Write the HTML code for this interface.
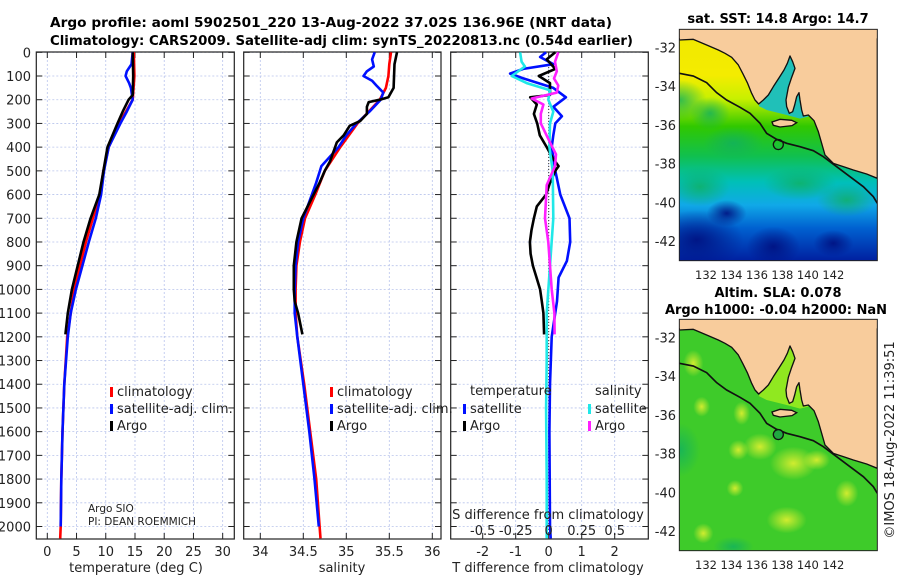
<!DOCTYPE html>
<html><head><meta charset="utf-8"><style>
html,body{margin:0;padding:0;background:#fff;}
svg{display:block;font-family:"DejaVu Sans","Liberation Sans",sans-serif;}
</style></head><body>
<svg id="fig" width="900" height="580" viewBox="0 0 900 580" xmlns="http://www.w3.org/2000/svg">
<defs>
<linearGradient id="sstg" x1="0" y1="88" x2="0" y2="782" gradientUnits="userSpaceOnUse">
<stop offset="0" stop-color="#f0e800"/><stop offset="0.2" stop-color="#f4ec00"/><stop offset="0.3" stop-color="#c8f000"/>
<stop offset="0.42" stop-color="#30c800"/><stop offset="0.55" stop-color="#10c050"/><stop offset="0.66" stop-color="#00c0b8"/>
<stop offset="0.76" stop-color="#10a8e8"/><stop offset="0.86" stop-color="#0060d0"/><stop offset="1" stop-color="#0020a0"/>
</linearGradient>
<radialGradient id="blob"><stop offset="0" stop-color="#e0f030" stop-opacity="0.9"/><stop offset="1" stop-color="#e0f030" stop-opacity="0"/></radialGradient>
<radialGradient id="dblob"><stop offset="0" stop-color="#001080" stop-opacity="0.9"/><stop offset="1" stop-color="#001080" stop-opacity="0"/></radialGradient>
<radialGradient id="gblob"><stop offset="0" stop-color="#10b060" stop-opacity="0.8"/><stop offset="1" stop-color="#10b060" stop-opacity="0"/></radialGradient>
<clipPath id="mapclip"><rect x="58" y="88" width="594" height="694"/></clipPath>
</defs>
<g id="root"></g>
</svg>
<script>
// ---------- data ----------
const depthTArgo=[0,100,180,200,250,300,400,500,600,700,800,900,1000,1100,1190];
const tempArgo=[14.6,14.7,14.6,13.9,12.9,12.0,10.3,9.6,8.9,7.4,6.2,5.2,4.2,3.5,3.1];
const depthClim=[0,100,200,300,400,500,600,700,800,900,1000,1200,1400,1600,1800,2000,2050];
const tempClim=[14.8,14.9,14.6,12.3,10.5,9.6,9.0,7.8,6.6,5.6,4.6,3.4,2.9,2.6,2.4,2.3,2.2];
const depthSat=[0,50,80,100,130,150,200,250,300,400,500,600,700,800,900,1000,1100,1200,1400,1600,1800,2000];
const tempSat=[14.6,14.4,13.6,13.4,14.0,14.3,14.6,13.6,12.5,10.5,9.7,9.2,8.3,7.1,6.0,4.9,4.0,3.5,2.9,2.6,2.4,2.3];
const depthSArgo=[0,50,150,190,200,210,230,260,290,310,350,380,420,460,500,550,600,700,800,900,1000,1050,1100,1190];
const salArgo=[35.59,35.56,35.55,35.49,35.39,35.26,35.24,35.24,35.16,35.04,34.97,34.89,34.85,34.81,34.75,34.69,34.62,34.48,34.42,34.39,34.39,34.40,34.44,34.49];
const depthSClim=[0,50,100,150,200,250,300,400,500,600,700,800,900,1000,1100,1200,1400,1600,1800,2000,2050];
const salClim=[35.52,35.50,35.49,35.46,35.39,35.26,35.13,34.93,34.75,34.64,34.52,34.46,34.42,34.41,34.41,34.43,34.51,34.58,34.65,34.69,34.70];
const depthSSat=[0,30,60,80,100,120,140,170,200,250,300,350,400,480,550,600,700,800,900,1000,1100,1200,1400,1600,1800,2000];
const salSat=[35.33,35.30,35.32,35.24,35.20,35.30,35.35,35.43,35.40,35.27,35.12,35.00,34.91,34.71,34.65,34.60,34.50,34.44,34.41,34.40,34.40,34.43,34.50,34.57,34.63,34.68];
const depthDT=[0,30,70,100,130,180,190,220,260,300,350,400,450,480,500,550,600,650,700,750,800,850,900,950,1000,1050,1100,1190];
const dTArgo=[0.2,-0.06,0.2,-0.3,0.04,0.04,-0.56,-0.36,-0.45,-0.35,-0.27,-0.06,0.14,0.3,0.2,0.04,-0.08,-0.36,-0.45,-0.52,-0.57,-0.55,-0.48,-0.37,-0.26,-0.21,-0.16,-0.14];
const depthDTS=[0,20,50,70,90,110,150,190,230,270,300,350,400,500,600,700,800,880,950,1050,1200,1400,1600,2000,2050];
const dTSat=[-0.08,-0.26,0.14,-0.77,-1.17,-0.77,0.14,0.52,0.14,0.4,0.2,0.14,0.09,0.2,0.35,0.63,0.65,0.55,0.3,0.25,0.09,0.04,0.02,0.04,0.06];
const depthDSS=[0,40,60,100,130,160,200,250,300,400,500,700,900,1100,1300,1500,1800,2050];
const dSSat=[-0.217,-0.205,-0.18,-0.28,-0.167,0.01,-0.003,0.035,0.01,0.005,0.03,0.035,0.01,-0.015,-0.015,-0.02,-0.015,-0.015];
const depthDSA=[0,40,80,110,140,170,195,220,260,300,380,430,480,560,700,800,900,1000,1100,1190];
const dSArgo=[0.073,0.048,0.061,0.040,0.073,0.061,-0.129,-0.040,-0.060,-0.060,0.010,0.055,0.048,-0.015,-0.028,-0.003,0.010,0.023,0.043,0.045];
const depthTicks=[0,100,200,300,400,500,600,700,800,900,1000,1100,1200,1300,1400,1500,1600,1700,1800,1900,2000];
const tempTicks=[0,5,10,15,20,25,30];
const salTicks=[34,34.5,35,35.5,36];
const salTickLabels=["34","34.5","35","35.5","36"];
const dTTicks=[-2,-1,0,1,2];
const dSTicks=[-0.5,-0.25,0,0.25,0.5];
const dSTickLabels=["-0.5","-0.25","0","0.25","0.5"];
const lonTicks=[132,134,136,138,140,142];
const latTicks=[-32,-34,-36,-38,-40,-42];
const argoLon=136.96, argoLat=-37.02;

// ---------- helpers ----------
const NS="http://www.w3.org/2000/svg";
const root=document.getElementById('root');
function el(tag,attrs,parent,txt){const e=document.createElementNS(NS,tag);for(const k in attrs)e.setAttribute(k,attrs[k]);if(txt!==undefined)e.textContent=txt;(parent||root).appendChild(e);return e;}
const yD=d=>52.3+d*0.2371;
const TOP=52, BOT=539;
const xT=v=>47.3+v*5.846;
const xS=v=>303.3+(v-34.5)*86;
const xDT=v=>548.7+v*33;
const xDS=v=>548.7+v*132;

function panel(name,L,R,ticksX,fx){
  const g=el('g',{});
  
  
  ticksX.forEach(t=>{const l=el('line',{x1:fx(t),x2:fx(t),y1:TOP,y2:BOT,stroke:'#b8c4ec','stroke-width':0.8,'stroke-dasharray':'2,2'},g);});
  depthTicks.forEach(d=>{const l=el('line',{x1:L,x2:R,y1:yD(d),y2:yD(d),stroke:'#b8c4ec','stroke-width':0.8,'stroke-dasharray':'2,2'},g);
    el('line',{x1:L,x2:L+6,y1:yD(d),y2:yD(d),stroke:'#222','stroke-width':1},g);el('line',{x1:R-6,x2:R,y1:yD(d),y2:yD(d),stroke:'#222','stroke-width':1},g);});
  ticksX.forEach(t=>{el('line',{x1:fx(t),x2:fx(t),y1:BOT-6,y2:BOT,stroke:'#222'},g);el('line',{x1:fx(t),x2:fx(t),y1:TOP,y2:TOP+6,stroke:'#222'},g);});
  const f=el('rect',{x:L,y:TOP,width:R-L,height:BOT-TOP,fill:'none',stroke:'#222','stroke-width':1.2},g);
  
  return g;
}
function line(name,xs,ds,fx,color,w,parent){
  const pts=xs.map((v,i)=>fx(v).toFixed(1)+','+yD(ds[i]).toFixed(1)).join(' ');
  const p=el('polyline',{points:pts,fill:'none',stroke:color,'stroke-width':w||2.6,'stroke-linejoin':'round'},parent);
  
  
  return p;
}
function text(name,x,y,s,attrs,parent){
  const a=Object.assign({x:x,y:y,'font-size':13,fill:'#222'},attrs||{});
  const t=el('text',a,parent,s);
  
  
  return t;
}

// ---------- titles ----------
text('title-line-1',50,27,'Argo profile: aoml 5902501_220 13-Aug-2022 37.02S 136.96E (NRT data)',{'font-weight':'bold','font-size':13.5,fill:'#000',textLength:562,lengthAdjust:'spacingAndGlyphs'});
text('title-line-2',50,45,'Climatology: CARS2009. Satellite-adj clim: synTS_20220813.nc (0.54d earlier)',{'font-weight':'bold','font-size':13.5,fill:'#000',textLength:583,lengthAdjust:'spacingAndGlyphs'});

depthTicks.forEach(d=>{text('depth-tick-label',31,yD(d)+5,String(d),{'text-anchor':'end'});});

// ---------- panel 1 ----------
const p1=panel('temperature-panel',36.3,234.3,tempTicks,xT);
tempTicks.forEach(t=>text('temp-tick-label',xT(t),556,String(t),{'text-anchor':'middle'}));
text('temperature-axis-title',136,572,'temperature (deg C)',{'text-anchor':'middle'});
line('temp-climatology-line',tempClim,depthClim,xT,'#ff0000',2.6,p1);
line('temp-satellite-line',tempSat,depthSat,xT,'#0010ff',2.6,p1);
line('temp-argo-line',tempArgo,depthTArgo,xT,'#000',2.6,p1);
function legend(x,y,color,label,name){
  const r=el('rect',{x:x,y:y-9,width:3,height:10,fill:color});
  text(name,x+7,y,label);
}
legend(110,396,'#ff0000','climatology','legend-climatology');
legend(110,413,'#0010ff','satellite-adj. clim.','legend-satellite-adj');
legend(110,430,'#000','Argo','legend-argo');
text('argo-sio-label',88,512,'Argo SIO',{'font-size':10.5});
text('pi-label',88,525,'PI: DEAN ROEMMICH',{'font-size':10.5});

// ---------- panel 2 ----------
const p2=panel('salinity-panel',243.7,441,salTicks,xS);
salTicks.forEach((t,i)=>text('sal-tick-label',xS(t),556,salTickLabels[i],{'text-anchor':'middle'}));
text('salinity-axis-title',342,572,'salinity',{'text-anchor':'middle'});
line('sal-climatology-line',salClim,depthSClim,xS,'#ff0000',2.6,p2);
line('sal-satellite-line',salSat,depthSSat,xS,'#0010ff',2.6,p2);
line('sal-argo-line',salArgo,depthSArgo,xS,'#000',2.6,p2);
legend(330,396,'#ff0000','climatology','legend-sal-climatology');
legend(330,413,'#0010ff','satellite-adj. clim.','legend-sal-satellite-adj');
legend(330,430,'#000','Argo','legend-sal-argo');

// ---------- panel 3 ----------
const p3=panel('difference-panel',450.7,648.3,dTTicks,xDT);
const z=el('line',{x1:xDT(0),x2:xDT(0),y1:TOP,y2:BOT,stroke:'#333','stroke-width':1,'stroke-dasharray':'1,2'},p3);

line('dT-satellite-line',dTSat,depthDTS,xDT,'#0010ff',2.6,p3);
line('dT-argo-line',dTArgo,depthDT,xDT,'#000',2.6,p3);
line('dS-satellite-line',dSSat,depthDSS,xDS,'#20e8e8',2.6,p3);
line('dS-argo-line',dSArgo,depthDSA,xDS,'#ff20ff',2.6,p3);
dTTicks.forEach(t=>text('dT-tick-label',xDT(t),556,String(t),{'text-anchor':'middle'}));
text('dT-axis-title',548,572,'T difference from climatology',{'text-anchor':'middle'});
text('dS-axis-title',548,519,'S difference from climatology',{'text-anchor':'middle'});
dSTicks.forEach((t,i)=>text('dS-tick-label',xDT(t*4),535,dSTickLabels[i],{'text-anchor':'middle'}));
text('legend-temperature-header',470,395,'temperature');
legend(463,413,'#0010ff','satellite','legend-dT-satellite');
legend(463,430,'#000','Argo','legend-dT-argo');
text('legend-salinity-header',595,395,'salinity');
legend(588,413,'#20e8e8','satellite','legend-dS-satellite');
legend(588,430,'#ff20ff','Argo','legend-dS-argo');

// ---------- maps ----------
const landPts="58,88 652,88 652,535 620,522 580,510 550,500 520,490 495,465 485,430 475,395 462,362 445,345 430,348 425,330 420,300 417,278 410,290 404,315 398,335 388,340 380,320 378,300 385,262 395,232 405,205 398,185 390,168 382,190 372,210 358,232 340,260 325,285 310,300 296,312 285,300 275,280 262,248 248,220 235,195 215,172 195,160 175,150 140,135 100,118 58,120";
const kiPts="336,366 360,358 395,361 410,368 396,377 360,381 340,376";
const shelfPts="58,220 100,228 140,248 170,278 200,300 240,322 270,340 300,370 320,400 350,418 380,430 420,440 460,452 490,470 530,500 570,530 610,560 640,590 652,610";
const gulfPts="296,318 390,160 420,250 445,350 420,356 380,345 320,330";
function mapLabels(dy,name){
  latTicks.forEach(la=>{const y=dy+47.3+(-32-la)*19.37;
    text(name+'-lat-label',676,y+5,String(la),{'text-anchor':'end'});
  });
  lonTicks.forEach(lo=>{const x=706+(lo-132)*12.73;
    text(name+'-lon-label',x,dy+279,String(lo),{'text-anchor':'middle','font-size':11.5});});
}
function buildMap(name,dy,kind){
  const g=el('g',{transform:'translate(660,'+dy+') scale(0.33333)'});
  
  
  const c=el('g',{'clip-path':'url(#mapclip)'},g);
  if(kind==='sst'){
    el('rect',{x:58,y:88,width:594,height:694,fill:'url(#sstg)'},c);
    [[60,300,80,60],[150,340,60,50],[220,430,90,50],[120,560,90,60],[420,550,110,50],[560,600,90,50]].forEach(b=>el('ellipse',{cx:b[0],cy:b[1],rx:b[2],ry:b[3],fill:'url(#gblob)'},c));
    [[110,720,140,90],[340,740,80,60],[200,640,60,40],[520,730,60,40]].forEach(b=>el('ellipse',{cx:b[0],cy:b[1],rx:b[2],ry:b[3],fill:'url(#dblob)'},c));
    el('polygon',{points:gulfPts,fill:'#20c0b8'},c);
  } else {
    el('rect',{x:58,y:88,width:594,height:694,fill:'#3ecb2a'},c);
    [[100,250,30,40],[125,380,25,30],[245,400,25,35],[235,510,30,30],[225,625,25,25],[400,550,70,50],[560,640,35,40],[380,720,60,40],[130,760,30,30],[470,540,40,30],[300,500,50,40]].forEach(b=>el('ellipse',{cx:b[0],cy:b[1]-30,rx:b[2],ry:b[3],fill:'url(#blob)'},c));
    [[220,770,60,30],[520,430,40,40],[60,480,60,80]].forEach(b=>el('ellipse',{cx:b[0],cy:b[1],rx:b[2],ry:b[3],fill:'url(#gblob)'},c));
    el('polygon',{points:gulfPts,fill:'#90e820'},c);
  }
  el('polygon',{points:landPts,fill:'#f8cc9c',stroke:'#111','stroke-width':4,'stroke-linejoin':'round'},c);
  el('polygon',{points:kiPts,fill:'#f8cc9c',stroke:'#111','stroke-width':4},c);
  el('polygon',{points:"58,88 652,88 652,115 58,115",fill:'#f8cc9c'},c);
  el('polyline',{points:shelfPts,fill:'none',stroke:'#111','stroke-width':5},c);
  const cx=355+(argoLon-136.96)*38.19;
  const cy=47.3*3+(-32-argoLat)*19.37*3;
  const m=el('circle',{cx:cx,cy:cy,r:15,fill:kind==='sst'?'none':'#20a840',stroke:'#111','stroke-width':4},c);
  
  
  el('rect',{x:58,y:88,width:594,height:694,fill:'none',stroke:'#222','stroke-width':3},g);
  mapLabels(dy,name);
}
buildMap('sst-map',0,'sst');
buildMap('sla-map',290,'sla');
text('sst-map-title',778,23,'sat. SST: 14.8 Argo: 14.7',{'font-weight':'bold','text-anchor':'middle',fill:'#000'});
text('sla-map-title',778,297,'Altim. SLA: 0.078',{'font-weight':'bold','text-anchor':'middle',fill:'#000'});
text('sla-map-subtitle',776,314,'Argo h1000: -0.04 h2000: NaN',{'font-weight':'bold','text-anchor':'middle',fill:'#000'});
text('imos-credit',0,0,'\u00a9IMOS 18-Aug-2022 11:39:51',{'text-anchor':'middle',transform:'translate(894,440) rotate(-90)'});
</script>
</body></html>
